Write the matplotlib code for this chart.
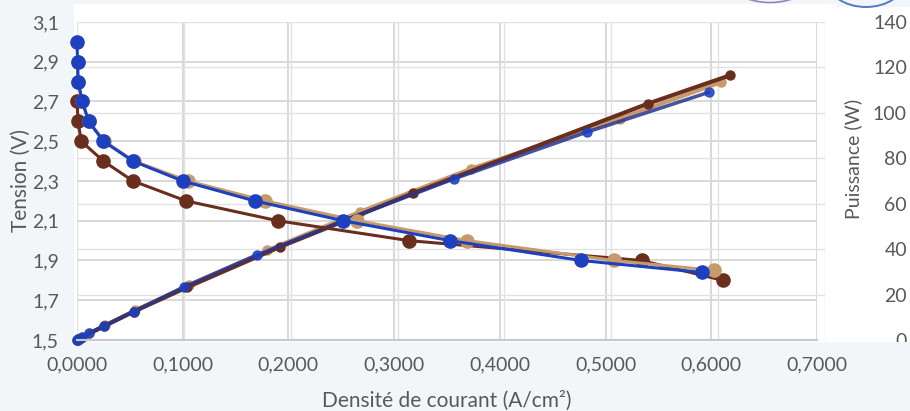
import matplotlib.pyplot as plt
from matplotlib.patches import Rectangle, Ellipse

# courbes de polarisation et de puissance (3 essais)
j_bleu = [0.0, 0.0005, 0.001, 0.005, 0.011, 0.025, 0.053, 0.100, 0.168, 0.252, 0.353, 0.477, 0.591]
v_bleu = [3.0, 2.9, 2.8, 2.7, 2.6, 2.5, 2.4, 2.3, 2.2, 2.1, 2.0, 1.9, 1.84]
p_bleu = [0.0, 0.1, 0.3, 1.4, 3.0, 6.0, 12.5, 23.3, 37.3, 53.0, 71.0, 91.5, 109.0]

j_beige = [0.0005, 0.001, 0.005, 0.011, 0.026, 0.054, 0.105, 0.178, 0.265, 0.369, 0.508, 0.603]
v_beige = [2.9, 2.8, 2.7, 2.6, 2.5, 2.4, 2.3, 2.2, 2.1, 2.0, 1.9, 1.85]
p_beige = [0.15, 0.3, 1.4, 2.9, 6.5, 13.0, 24.3, 39.5, 56.5, 75.5, 97.5, 113.5]

j_brun = [0.0, 0.001, 0.004, 0.025, 0.053, 0.103, 0.190, 0.314, 0.534, 0.611]
v_brun = [2.7, 2.6, 2.5, 2.4, 2.3, 2.2, 2.1, 2.0, 1.9, 1.80]
p_brun = [0.0, 0.3, 1.0, 6.0, 12.5, 23.2, 41.0, 64.5, 104.0, 116.5]

x_ticks = [0.0, 0.1, 0.2, 0.3, 0.4, 0.5, 0.6, 0.7]
x_labels = ["0,0000", "0,1000", "0,2000", "0,3000", "0,4000", "0,5000", "0,6000", "0,7000"]
v_ticks = [1.5, 1.7, 1.9, 2.1, 2.3, 2.5, 2.7, 2.9, 3.1]
v_labels = ["1,5", "1,7", "1,9", "2,1", "2,3", "2,5", "2,7", "2,9", "3,1"]
p_ticks = [0, 20, 40, 60, 80, 100, 120, 140]

BLEU = "#1d40bf"
BLEU_P = "#28358f"
BEIGE = "#c79a6b"
BRUN = "#6a2e1e"
GRIS = "#595959"
FOND = "#f3f6f9"

W, H = 910, 411
plt.rcParams['font.family'] = ['Lato', 'DejaVu Sans']


def rect(x0, y0, x1, y1):
    # pixels (origine en haut a gauche) -> fraction de figure
    return [x0 / W, (H - y1) / H, (x1 - x0) / W, (y1 - y0) / H]


fig = plt.figure(figsize=(W / 100, H / 100), dpi=100, facecolor=FOND)
r = rect(74, 4, W, 342)
fig.add_artist(Rectangle((r[0], r[1]), r[2], r[3], transform=fig.transFigure,
                         facecolor="white", edgecolor="none", zorder=-1))

pos_v = rect(77, 22, 817, 340)
pos_p = rect(77, 22, 825, 340)

# grille principale (tension)
ax_g = fig.add_axes(pos_v, zorder=0)
ax_g.set_facecolor("none")
ax_g.set_xlim(0, 0.7)
ax_g.set_ylim(1.5, 3.1)
ax_g.set_xticks(x_ticks)
ax_g.set_yticks(v_ticks)
ax_g.grid(True, color="#d6d6d6", lw=1.3)
ax_g.tick_params(length=0, labelleft=False, labelbottom=False)
for s in ax_g.spines.values():
    s.set_visible(False)

# puissance
ax_p = fig.add_axes(pos_p, zorder=1)
ax_p.set_facecolor("none")
ax_p.set_xlim(0, 0.7)
ax_p.set_ylim(0, 140)
ax_p.set_xticks(x_ticks)
ax_p.set_yticks(p_ticks)
ax_p.grid(True, color="#e2e2e2", lw=1.0)
ax_p.set_axisbelow(True)
ax_p.yaxis.tick_right()
ax_p.tick_params(length=0, labelbottom=False, labelsize=14, labelcolor=GRIS, pad=59)
for lab in ax_p.get_yticklabels():
    lab.set_horizontalalignment("right")
for s in ax_p.spines.values():
    s.set_visible(False)
ax_p.set_ylabel("Puissance (W)", fontsize=14, color=GRIS, rotation=90)
ax_p.yaxis.set_label_position("right")
ax_p.yaxis.set_label_coords((844 - 77) / 748, 0.57)

ax_p.plot(j_beige, p_beige, color=BEIGE, lw=2.8, marker="o", ms=6.5, clip_on=False)
ax_p.plot(j_brun, p_brun, color=BRUN, lw=3.0, marker="o", ms=6.5, clip_on=False)
ax_p.plot(j_bleu, p_bleu, color=BLEU_P, lw=2.6, marker="o", ms=6.5, alpha=0.85,
          mfc=BLEU, mec=BLEU, clip_on=False)

# tension
ax_v = fig.add_axes(pos_v, zorder=2)
ax_v.set_facecolor("none")
ax_v.set_xlim(0, 0.7)
ax_v.set_ylim(1.5, 3.1)
ax_v.set_xticks(x_ticks)
ax_v.set_xticklabels(x_labels)
ax_v.set_yticks(v_ticks)
ax_v.set_yticklabels(v_labels)
ax_v.tick_params(length=0, labelsize=14, labelcolor=GRIS)
ax_v.tick_params(axis="y", pad=13)
ax_v.tick_params(axis="x", pad=12)
for k, s in ax_v.spines.items():
    s.set_visible(k == "bottom")
ax_v.spines["bottom"].set_color("#c8c8c8")
ax_v.spines["bottom"].set_linewidth(1.5)

ax_v.plot(j_brun, v_brun, color=BRUN, lw=2.2, marker="o", ms=9.5, clip_on=False)
ax_v.plot(j_beige, v_beige, color=BEIGE, lw=2.2, marker="o", ms=9.5, clip_on=False)
ax_v.plot(j_bleu, v_bleu, color=BLEU, lw=2.2, marker="o", ms=9.5, clip_on=False)

ax_v.set_ylabel("Tension (V)", fontsize=15, color=GRIS)
ax_v.yaxis.set_label_coords((31 - 77) / 740, 0.5)
ax_v.set_xlabel("Densité de courant (A/cm²)", fontsize=15, color=GRIS, labelpad=12)

# bande grise qui coupe le "0" de droite
r = rect(850, 342, W, 356)
fig.add_artist(Rectangle((r[0], r[1]), r[2], r[3], transform=fig.transFigure,
                         facecolor=FOND, edgecolor="none", zorder=10))
r = rect(836, 0, W, 7)
fig.add_artist(Rectangle((r[0], r[1]), r[2], r[3], transform=fig.transFigure,
                         facecolor=FOND, edgecolor="none", zorder=10))

# traits de stylo en haut a droite
fig.add_artist(Ellipse((770 / W, 1 + 25 / H), 90 / W, 55 / H, transform=fig.transFigure,
                       fill=False, edgecolor="#8a86c4", lw=1.2, zorder=11))
fig.add_artist(Ellipse((866 / W, 1 + 20 / H), 78 / W, 54 / H, transform=fig.transFigure,
                       fill=False, edgecolor="#4f7cc9", lw=1.4, zorder=11))

fig.savefig("out.png", dpi=100, facecolor=FOND)
